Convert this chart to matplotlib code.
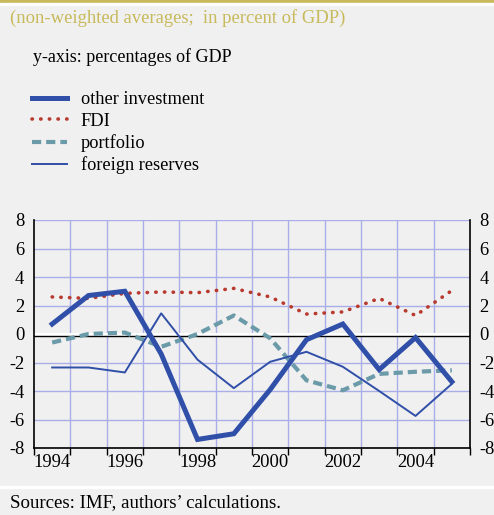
import matplotlib.pyplot as plt
import numpy as np

# data
years = [1994, 1995, 1996, 1997, 1998, 1999, 2000, 2001, 2002, 2003, 2004, 2005]
other_investment = [0.7, 2.7, 3.0, -1.4, -7.4, -7.0, -3.9, -0.4, 0.7, -2.5, -0.25, -3.35]
fdi = [2.6, 2.5, 2.85, 2.95, 2.9, 3.2, 2.6, 1.4, 1.55, 2.5, 1.3, 3.05]
portfolio = [-0.6, 0.0, 0.1, -0.9, 0.0, 1.3, -0.3, -3.25, -3.95, -2.8, -2.65, -2.55]
foreign_reserves = [-2.35, -2.35, -2.7, 1.45, -1.8, -3.8, -1.95, -1.25, -2.3, -4.0, -5.75, -3.5]
year_labels = ['1994', '', '1996', '', '1998', '', '2000', '', '2002', '', '2004', '']
y_ticks = [-8, -6, -4, -2, 0, 2, 4, 6, 8]

bg = '#f0f0f0'
gold = '#c8b95a'
grid_col = '#a9aee6'
blue = '#2f4fa8'
red = '#b83a2e'
teal = '#6b9aa9'

plt.rcParams['font.family'] = ['Liberation Serif', 'DejaVu Serif']

fig = plt.figure(figsize=(4.94, 5.15), dpi=100, facecolor=bg)
ax = fig.add_axes([34 / 494, 67 / 515, 436 / 494, 228 / 515])
ax.set_facecolor(bg)

x = np.arange(len(years))

# grid
for b in np.arange(0.5, len(years) - 1, 1.0):
    ax.axvline(b, color=grid_col, lw=1.0, zorder=1)
for t in y_ticks:
    ax.axhline(t, color=grid_col, lw=1.0, zorder=1)

# zero line: white band with black line just below
ax.axhline(0, color='white', lw=2.2, zorder=2)
ax.axhline(-0.16, color='black', lw=1.0, zorder=2)

l1, = ax.plot(x, other_investment, color=blue, lw=3.6, solid_joinstyle='miter', zorder=5,
              label='other investment')
l2, = ax.plot(x, fdi, color=red, lw=2.6, linestyle=(0, (0.1, 2.3)), dash_capstyle='round',
              zorder=4, label='FDI')
l3, = ax.plot(x, portfolio, color=teal, lw=3.0, linestyle=(0, (2.2, 1.2)), zorder=4,
              label='portfolio')
l4, = ax.plot(x, foreign_reserves, color=blue, lw=1.4, zorder=4, label='foreign reserves')

ax.set_xlim(-0.5, len(years) - 0.5)
ax.set_ylim(-8, 8)

ax.set_xticks(np.arange(-0.5, len(years), 1.0))
ax.set_xticklabels([])
ax.set_xticks(x, minor=True)
ax.set_xticklabels(year_labels, minor=True)
ax.tick_params(axis='x', which='major', direction='out', length=5, width=1, color='black')
ax.tick_params(axis='x', which='minor', length=0, labelsize=13.3, pad=4)

ax.set_yticks(y_ticks)
ax.set_yticklabels([str(t) for t in y_ticks])
ax.tick_params(axis='y', length=0, labelsize=13.3, pad=7,
               labelleft=True, labelright=True)

for s in ['left', 'right', 'bottom']:
    ax.spines[s].set_color('black')
    ax.spines[s].set_linewidth(1.2)
ax.spines['top'].set_visible(False)

# header / footer
fig.patches.append(plt.Rectangle((0, 1 - 3 / 515), 1, 3 / 515, transform=fig.transFigure,
                                 color=gold, zorder=0))
fig.patches.append(plt.Rectangle((0, 1 - 5 / 515), 1, 2 / 515, transform=fig.transFigure,
                                 color='white', zorder=0))
fig.patches.append(plt.Rectangle((0, 1 - 488 / 515), 1, 2 / 515, transform=fig.transFigure,
                                 color='white', zorder=0))

fig.text(10 / 494, 1 - 18 / 515, '(non-weighted averages;  in percent of GDP)', color=gold,
         fontsize=13.4, va='center', ha='left')
fig.text(33 / 494, 1 - 57 / 515, 'y-axis: percentages of GDP', color='black',
         fontsize=13, va='center', ha='left')
fig.text(10 / 494, 1 - 503 / 515, 'Sources: IMF, authors\u2019 calculations.', color='black',
         fontsize=13.6, va='center', ha='left')

fig.legend(handles=[l1, l2, l3, l4], loc='upper left',
           bbox_to_anchor=(32 / 494, 1 - 91 / 515), frameon=False, fontsize=13.2,
           handlelength=1.9, handletextpad=0.76, labelspacing=0.25, borderpad=0,
           borderaxespad=0)

fig.savefig('out.png', dpi=100, facecolor=bg)
